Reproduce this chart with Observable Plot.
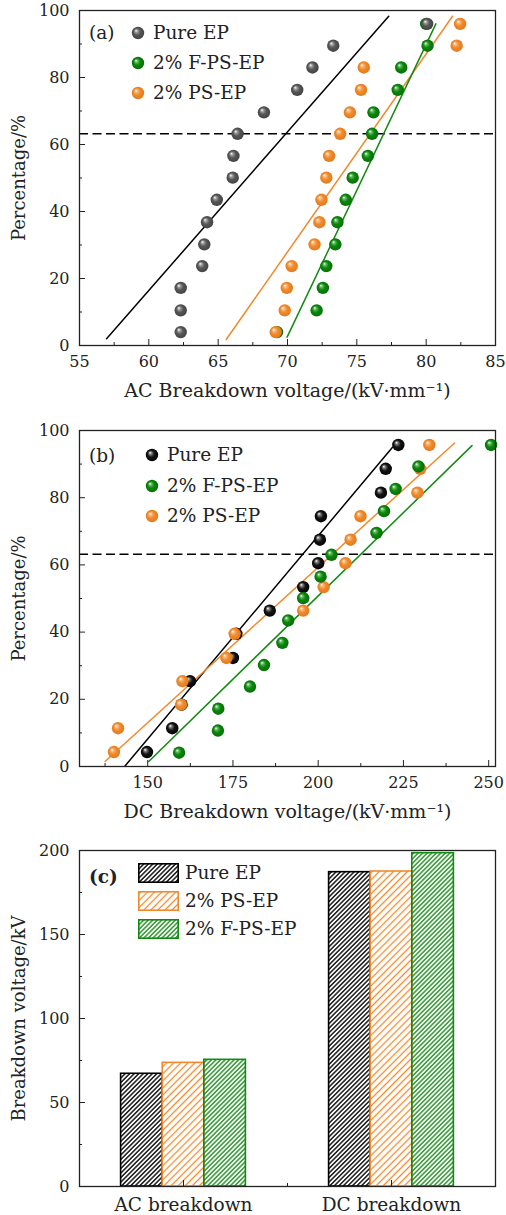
<!DOCTYPE html>
<html><head><meta charset="utf-8">
<script src="https://cdn.jsdelivr.net/npm/d3@7"></script>
<script src="https://cdn.jsdelivr.net/npm/@observablehq/plot@0.6"></script>
<style>
body{margin:0;background:#fff;}
#wrap{position:relative;width:506px;height:1215px;font-family:"DejaVu Serif",serif;color:#222;overflow:hidden;}
.panel{position:absolute;left:0;}
.lab{position:absolute;font-size:18.5px;line-height:1;white-space:nowrap;transform:translateY(-50%);}
.mk{position:absolute;transform:translate(-50%,-50%);}
</style></head><body>
<svg width="0" height="0" style="position:absolute">
<defs>
  <radialGradient id="ballGray" cx="0.5" cy="0.5" r="0.55" fx="0.33" fy="0.3">
    <stop offset="0" stop-color="#ffffff"/><stop offset="0.22" stop-color="#9a9a9a"/>
    <stop offset="0.5" stop-color="#575757"/><stop offset="1" stop-color="#404040"/>
  </radialGradient>
  <radialGradient id="ballBlack" cx="0.5" cy="0.5" r="0.55" fx="0.33" fy="0.3">
    <stop offset="0" stop-color="#ffffff"/><stop offset="0.22" stop-color="#777"/>
    <stop offset="0.5" stop-color="#151515"/><stop offset="1" stop-color="#000"/>
  </radialGradient>
  <radialGradient id="ballGreen" cx="0.5" cy="0.5" r="0.55" fx="0.33" fy="0.3">
    <stop offset="0" stop-color="#ffffff"/><stop offset="0.22" stop-color="#5cb85c"/>
    <stop offset="0.5" stop-color="#0b870b"/><stop offset="1" stop-color="#066a06"/>
  </radialGradient>
  <radialGradient id="ballOrange" cx="0.5" cy="0.5" r="0.55" fx="0.33" fy="0.3">
    <stop offset="0" stop-color="#ffffff"/><stop offset="0.22" stop-color="#f8b878"/>
    <stop offset="0.5" stop-color="#f08a2e"/><stop offset="1" stop-color="#e07818"/>
  </radialGradient>
  <pattern id="hatchBlack" width="3.2" height="10" patternUnits="userSpaceOnUse" patternTransform="rotate(45)">
    <line x1="1.6" y1="0" x2="1.6" y2="10" stroke="#000" stroke-width="1.35"/>
  </pattern>
  <pattern id="hatchOrange" width="5" height="10" patternUnits="userSpaceOnUse" patternTransform="rotate(45)">
    <line x1="2.5" y1="0" x2="2.5" y2="10" stroke="#f08a2e" stroke-width="1.3"/>
  </pattern>
  <pattern id="hatchGreen" width="3.2" height="10" patternUnits="userSpaceOnUse" patternTransform="rotate(45)">
    <line x1="1.6" y1="0" x2="1.6" y2="10" stroke="#118a11" stroke-width="1.3"/>
  </pattern>
</defs>
</svg>
<div id="wrap"></div>
<script>
// ---------- data ----------
// (a) AC breakdown Weibull plot
const acPercent = [4.0,10.5,17.2,23.7,30.2,36.8,43.5,50.1,56.6,63.2,69.6,76.3,83.0,89.5,96.0];
const acPure  = [62.3,62.3,62.3,63.85,64.0,64.2,64.9,66.05,66.1,66.4,68.3,70.7,71.8,73.3,80.07];
const acFPS   = [69.25,72.1,72.55,72.8,73.45,73.6,74.2,74.7,75.8,76.1,76.2,77.95,78.2,80.1,80.0];
const acPS    = [69.15,69.8,69.95,70.3,71.95,72.3,72.45,72.8,73.0,73.8,74.5,75.3,75.5,82.2,82.45];
const acFitPure = [[56.95,2.0],[77.3,98.3]];
const acFitPS   = [[65.58,1.8],[81.9,98.3]];
const acFitFPS  = [[69.97,2.5],[80.7,96.0]];
// (b) DC breakdown Weibull plot
const dcPercent14 = [4.3,11.4,18.4,25.4,32.3,39.5,46.4,53.4,60.5,67.5,74.5,81.5,88.6,95.7];
const dcPercent15 = [4.1,10.7,17.2,23.8,30.2,36.8,43.5,50.1,56.5,63.0,69.5,76.0,82.6,89.3,95.7];
const dcPure = [149.8,157.2,159.95,162.4,175.0,176.0,185.8,195.6,200.0,200.5,200.8,218.4,219.8,223.5];
const dcPS   = [140.1,141.3,159.8,160.2,173.1,175.5,195.6,201.6,208.0,209.5,212.4,229.1,229.9,232.6];
const dcFPS  = [159.2,170.6,170.7,180.0,184.1,189.5,191.2,195.6,200.7,203.9,217.1,219.3,222.7,229.4,250.7];
const dcFitPure = [[143.3,0.1],[221.8,95.0]];
const dcFitPS   = [[137.5,1.5],[240.0,96.3]];
const dcFitFPS  = [[150.3,1.5],[245.1,95.5]];
const weibull63 = 63.2;
// (c) breakdown voltage bars
const groups = ["AC breakdown","DC breakdown"];
const seriesNames = ["Pure EP","2% PS-EP","2% F-PS-EP"];
const acBars = [67.1,73.6,75.4];
const dcBars = [187.1,187.5,198.4];

// ---------- styles ----------
const C = {black:"#000", orange:"#f08a2e", green:"#118a11", frame:"#222"};
const style = {fontFamily:'"DejaVu Serif", serif', fontSize:"16px", color:"#222", background:"transparent", overflow:"visible"};
const W = 506, ML = 79, MR = 11;

function pts(xs, ys){ return xs.map((x,i)=>({x, y: ys[i]})); }
function seg(p){ return p.map(([x,y])=>({x,y})); }

function frameAxes(o){
  const m = [
    Plot.frame({stroke:C.frame, strokeWidth:1.3}),
    Plot.axisX({ticks:o.xMaj, tickSize:-6, fill:"none", stroke:C.frame, label:null}),
    Plot.axisX({ticks:o.xMin, tickSize:-3, fill:"none", stroke:C.frame, label:null}),
    Plot.axisX({ticks:o.xMaj, tickSize:0, tickPadding:o.xPad ?? 10, tickFormat:o.xFmt, fontSize:o.xFont ?? 16, label:null}),
    Plot.axisY({ticks:o.yMaj, tickSize:-6, fill:"none", stroke:C.frame, label:null}),
    Plot.axisY({ticks:o.yMin, tickSize:-3, fill:"none", stroke:C.frame, label:null}),
    Plot.axisY({ticks:o.yMaj, tickSize:0, tickPadding:10, tickFormat:d=>String(d), fontSize:16, label:null}),
    Plot.text([o.yLabel], {frameAnchor:"left", textAnchor:"middle", rotate:-90, dx:-60, fontSize:18, fill:"#222"})
  ];
  if (o.xLabel) m.push(Plot.text([o.xLabel], {frameAnchor:"bottom", dy:45, lineAnchor:"middle", fontSize:19, fill:"#222"}));
  return m;
}

const wrap = document.getElementById("wrap");
function place(node, top){ node.classList.add("panel"); node.style.top = top+"px"; wrap.appendChild(node); }

// ---- panel (a)
const pa = Plot.plot({
  width:W, height:410, marginLeft:ML, marginRight:MR, marginTop:10, marginBottom:65,
  style,
  x:{domain:[55,85], axis:null}, y:{domain:[0,100], axis:null},
  marks:[
    Plot.ruleY([weibull63], {stroke:"#000", strokeWidth:1.5, strokeDasharray:"9,4.5"}),
    Plot.line(seg(acFitPure), {x:"x", y:"y", stroke:C.black, strokeWidth:1.5}),
    Plot.line(seg(acFitPS), {x:"x", y:"y", stroke:C.orange, strokeWidth:1.5}),
    Plot.line(seg(acFitFPS), {x:"x", y:"y", stroke:C.green, strokeWidth:1.5}),
    Plot.dot(pts(acFPS, acPercent), {x:"x", y:"y", r:6.2, fill:"url(#ballGreen)"}),
    Plot.dot(pts(acPS, acPercent), {x:"x", y:"y", r:6.2, fill:"url(#ballOrange)"}),
    Plot.dot(pts(acPure, acPercent), {x:"x", y:"y", r:6.2, fill:"url(#ballGray)"}),
    ...frameAxes({xMaj:d3.range(55,86,5), xMin:d3.range(57.5,85,5), yMaj:d3.range(0,101,20), yMin:d3.range(10,100,20),
      xLabel:"AC Breakdown voltage/(kV·mm⁻¹)", yLabel:"Percentage/%"})
  ]
});
place(pa, 0);

// ---- panel (b)
const pb = Plot.plot({
  width:W, height:420, marginLeft:ML, marginRight:MR, marginTop:20, marginBottom:64,
  style,
  x:{domain:[130,252], axis:null}, y:{domain:[0,100], axis:null},
  marks:[
    Plot.ruleY([weibull63], {stroke:"#000", strokeWidth:1.5, strokeDasharray:"9,4.5"}),
    Plot.line(seg(dcFitPure), {x:"x", y:"y", stroke:C.black, strokeWidth:1.5}),
    Plot.line(seg(dcFitPS), {x:"x", y:"y", stroke:C.orange, strokeWidth:1.5}),
    Plot.line(seg(dcFitFPS), {x:"x", y:"y", stroke:C.green, strokeWidth:1.5}),
    Plot.dot(pts(dcPure, dcPercent14), {x:"x", y:"y", r:6.2, fill:"url(#ballBlack)"}),
    Plot.dot(pts(dcPS, dcPercent14), {x:"x", y:"y", r:6.2, fill:"url(#ballOrange)"}),
    Plot.dot(pts(dcFPS, dcPercent15), {x:"x", y:"y", r:6.2, fill:"url(#ballGreen)"}),
    ...frameAxes({xMaj:d3.range(150,251,25), xMin:d3.range(137.5,252,25), yMaj:d3.range(0,101,20), yMin:d3.range(10,100,20),
      xLabel:"DC Breakdown voltage/(kV·mm⁻¹)", yLabel:"Percentage/%"})
  ]
});
place(pb, 410);

// ---- panel (c)
const barW = 0.2;
const barData = [];
groups.forEach((g,gi)=>{
  const vals = gi===0 ? acBars : dcBars;
  seriesNames.forEach((s,si)=> barData.push({g, gi, s, si, v: vals[si]}));
});
const barFill = {"Pure EP":"url(#hatchBlack)","2% PS-EP":"url(#hatchOrange)","2% F-PS-EP":"url(#hatchGreen)"};
const barStroke = {"Pure EP":C.black,"2% PS-EP":C.orange,"2% F-PS-EP":C.green};
const pc = Plot.plot({
  width:W, height:385, marginLeft:ML, marginRight:MR, marginTop:20, marginBottom:29,
  style,
  x:{domain:[0.5,2.5], axis:null}, y:{domain:[0,200], axis:null},
  color:{type:"identity"},
  marks:[
    Plot.rect(barData, {
      x1:d=>d.gi+1+(d.si-1.5)*barW, x2:d=>d.gi+1+(d.si-0.5)*barW,
      y1:0, y2:"v",
      fill:d=>barFill[d.s], stroke:d=>barStroke[d.s], strokeWidth:1.6
    }),
    ...frameAxes({xMaj:[1,2], xMin:[1.5], xFmt:d=>groups[d-1], xPad:11, xFont:18.5, yMaj:d3.range(0,201,50), yMin:d3.range(25,200,50),
      xLabel:null, yLabel:"Breakdown voltage/kV"})
  ]
});
place(pc, 830);

// ---------- in-plot legends (HTML overlay) ----------
function text(str, left, cy, extra){
  const d = document.createElement("div"); d.className="lab"; d.textContent=str;
  d.style.left=left+"px"; d.style.top=cy+"px"; if(extra) Object.assign(d.style, extra); wrap.appendChild(d);
}
function ball(grad, cx, cy){
  const s = document.createElementNS("http://www.w3.org/2000/svg","svg");
  s.setAttribute("width","14"); s.setAttribute("height","14"); s.setAttribute("class","mk");
  s.style.left=cx+"px"; s.style.top=cy+"px";
  const c = document.createElementNS("http://www.w3.org/2000/svg","circle");
  c.setAttribute("cx","7"); c.setAttribute("cy","7"); c.setAttribute("r","6.2"); c.setAttribute("fill",`url(#${grad})`);
  s.appendChild(c); wrap.appendChild(s);
}
function swatch(pat, col, left, cy){
  const s = document.createElementNS("http://www.w3.org/2000/svg","svg");
  s.setAttribute("width","41"); s.setAttribute("height","20");
  s.style.position="absolute"; s.style.left=left+"px"; s.style.top=(cy-10)+"px";
  const r = document.createElementNS("http://www.w3.org/2000/svg","rect");
  r.setAttribute("x","0.8"); r.setAttribute("y","0.8"); r.setAttribute("width","39.4"); r.setAttribute("height","18.4");
  r.setAttribute("fill",`url(#${pat})`); r.setAttribute("stroke",col); r.setAttribute("stroke-width","1.6");
  s.appendChild(r); wrap.appendChild(s);
}
// (a)
text("(a)", 89, 33);
const legA = [["Pure EP","ballGray"],["2% F-PS-EP","ballGreen"],["2% PS-EP","ballOrange"]];
const rowsA = [33, 63, 92.5];
legA.forEach(([n,g],i)=>{ ball(g, 138, rowsA[i]); text(n, 153, rowsA[i]); });
// (b)
text("(b)", 89, 456);
const legB = [["Pure EP","ballBlack"],["2% F-PS-EP","ballGreen"],["2% PS-EP","ballOrange"]];
const rowsB = [454.5, 485.5, 515.5];
legB.forEach(([n,g],i)=>{ ball(g, 152, rowsB[i]); text(n, 167, rowsB[i]); });
// (c)
text("(c)", 89, 877, {fontWeight:"bold"});
const legC = [["Pure EP","hatchBlack",C.black],["2% PS-EP","hatchOrange",C.orange],["2% F-PS-EP","hatchGreen",C.green]];
const rowsC = [873, 901, 928.5];
legC.forEach(([n,p,col],i)=>{ swatch(p, col, 137.5, rowsC[i]); text(n, 185, rowsC[i]); });
</script>
</body></html>
